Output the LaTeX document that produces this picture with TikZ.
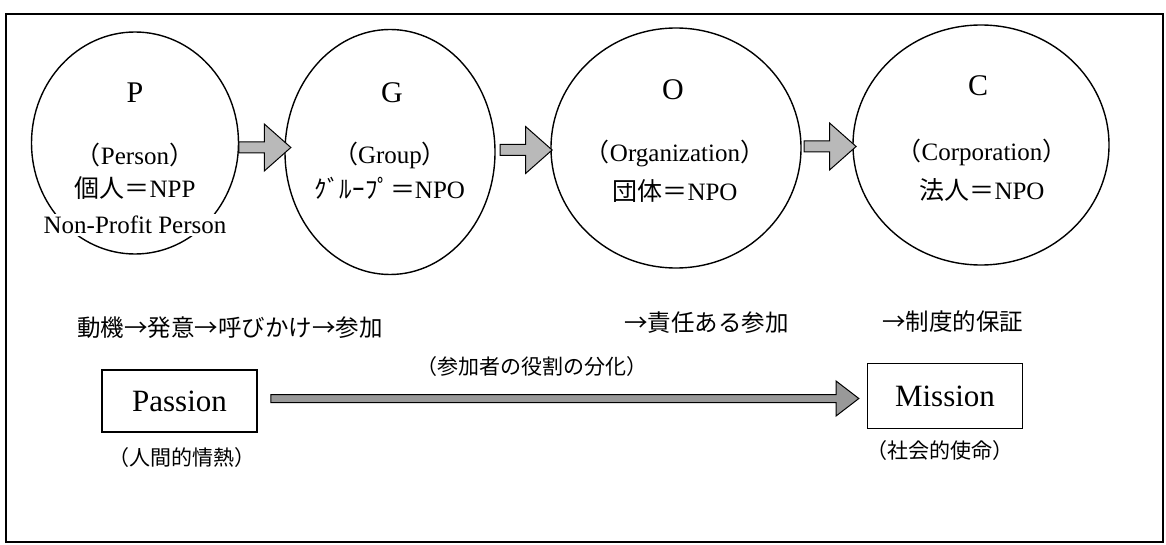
\documentclass[tikz,border=0pt]{standalone}
\usepackage{fontspec}
\setmainfont{Liberation Serif}
\newfontfamily\jp{Noto Sans CJK JP}
\usetikzlibrary{shapes.geometric,shapes.arrows}
\newcommand{\lp}{{\jp （}}
\newcommand{\rp}{{\jp ）}}
\tikzset{
  stage/.style={draw, ellipse, line width=0.7pt, inner sep=0pt},
  letter/.style={font=\fontsize{15}{18}\selectfont},
  txt/.style={font=\fontsize{12.5}{15}\selectfont, inner sep=1pt},
  note/.style={font=\fontsize{10.5}{13}\selectfont\jp},
  flow/.style={font=\fontsize{11.75}{14}\selectfont\jp, anchor=west, inner sep=0pt},
  goal/.style={draw, line width=0.7pt, minimum width=77.5pt, font=\fontsize{15.5}{18}\selectfont},
  blockarr/.style={single arrow, draw, fill=gray!55, line width=0.5pt, inner xsep=0pt,
    inner ysep=2.5pt, single arrow head extend=9pt, single arrow tip angle=83},
}
\begin{document}
\begin{tikzpicture}[x=0.5pt, y=-0.5pt]
  \useasboundingbox (0,0) rectangle (1166,545);
  \draw[line width=0.75pt] (6,14) rectangle (1163,542);

  % P -> G -> O -> C
  \node[stage, minimum width=103.5pt, minimum height=111pt] (p) at (135,143) {};
  \node[stage, minimum width=105pt, minimum height=122.5pt] (g) at (390,152) {};
  \node[stage, minimum width=125pt, minimum height=120pt] (o) at (676,148) {};
  \node[stage, minimum width=128pt, minimum height=120pt] (c) at (981,145) {};

  \node[letter] (pl) at (135,93) {P};
  \node[txt] (pe) at (135,155) {\lp Person\rp};
  \node[txt] (pj) at (135,188) {{\jp 個人＝}NPP};
  \node[txt, fill=white] (pn) at (135,225) {Non-Profit Person};

  \node[letter] (gl) at (392,93) {G};
  \node[txt] (ge) at (390,155) {\lp Group\rp};
  \node[txt] (gj) at (390,188) {{\jp ｸﾞﾙｰﾌﾟ＝}NPO};

  \node[letter] (ol) at (673,90) {O};
  \node[txt] (oe) at (675,153) {\lp Organization\rp};
  \node[txt] (oj) at (675,191) {{\jp 団体＝}NPO};

  \node[letter] (cl) at (978,86) {C};
  \node[txt] (ce) at (982,152) {\lp Corporation\rp};
  \node[txt] (cj) at (982,190) {{\jp 法人＝}NPO};

  \path (p.east) -- (g.west) node[midway, blockarr, minimum height=26pt] (a1) {};
  \path (g.east) -- (o.west) node[midway, blockarr, minimum height=26pt] (a2) {};
  \path (o.east) -- (c.west) node[midway, blockarr, minimum height=26pt] (a3) {};

  % 下段
  \node[flow] (f1) at (77,328) {動機→発意→呼びかけ→参加};
  \node[flow] (f2) at (624,323) {→責任ある参加};
  \node[flow] (f3) at (882,322) {→制度的保証};
  \node[note] (role) at (532,367) {（参加者の役割の分化）};

  \node[goal, minimum height=31pt] (passion) at (179.5,401) {Passion};
  \node[goal, minimum height=32.5pt] (mission) at (945,396) {Mission};
  \node[note] (pnote) at (182,458) {（人間的情熱）};
  \node[note] (mnote) at (940,451) {（社会的使命）};

  \path (passion.east) -- (mission.west) node[midway, blockarr, fill=gray!80,
    minimum height=294pt, inner ysep=1.75pt, single arrow head extend=6.75pt,
    single arrow tip angle=75] (a4) {};
\end{tikzpicture}
\end{document}
